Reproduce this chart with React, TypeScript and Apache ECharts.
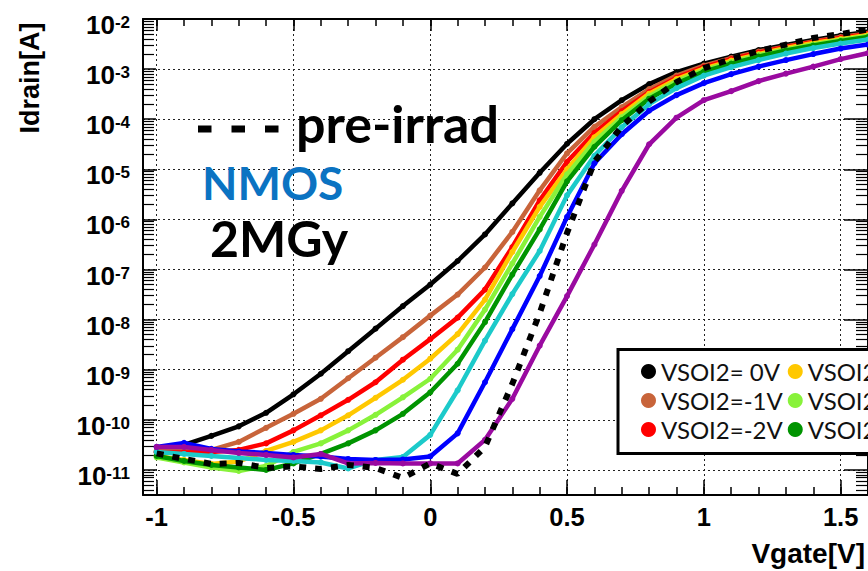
import React, { useEffect, useRef } from 'react';
import * as echarts from 'echarts';

// Gate voltage [V]
const VGATE = [-1.0, -0.9, -0.8, -0.7, -0.6, -0.5, -0.4, -0.3, -0.2, -0.1, 0.0, 0.1, 0.2, 0.3, 0.4, 0.5, 0.6, 0.7, 0.8, 0.9, 1.0, 1.1, 1.2, 1.3, 1.4, 1.5, 1.6];

// log10(Idrain [A])
const LOG_ID_0V = [-10.64, -10.50, -10.32, -10.13, -9.86, -9.49, -9.08, -8.63, -8.18, -7.73, -7.30, -6.83, -6.30, -5.68, -5.07, -4.49, -4.00, -3.62, -3.30, -3.06, -2.89, -2.75, -2.62, -2.52, -2.42, -2.33, -2.26];
const LOG_ID_M1V = [-10.62, -10.62, -10.60, -10.44, -10.16, -9.88, -9.58, -9.17, -8.76, -8.35, -7.92, -7.50, -6.96, -6.25, -5.42, -4.68, -4.15, -3.76, -3.40, -3.13, -2.93, -2.78, -2.65, -2.55, -2.45, -2.36, -2.29];
const LOG_ID_M2V = [-10.65, -10.65, -10.64, -10.60, -10.47, -10.21, -9.91, -9.60, -9.25, -8.80, -8.39, -7.96, -7.40, -6.55, -5.62, -4.85, -4.27, -3.84, -3.46, -3.17, -2.96, -2.80, -2.67, -2.56, -2.46, -2.38, -2.30];
const LOG_ID_M3V = [-10.72, -10.80, -10.88, -10.83, -10.62, -10.44, -10.21, -9.91, -9.56, -9.20, -8.78, -8.29, -7.60, -6.65, -5.75, -5.00, -4.36, -3.90, -3.49, -3.20, -2.99, -2.83, -2.70, -2.58, -2.48, -2.40, -2.32];
const LOG_ID_M4V = [-10.75, -10.85, -10.95, -11.02, -10.92, -10.64, -10.47, -10.21, -9.90, -9.55, -9.18, -8.60, -7.80, -6.88, -5.95, -5.10, -4.45, -3.96, -3.54, -3.24, -3.02, -2.86, -2.72, -2.61, -2.51, -2.42, -2.34];
const LOG_ID_M5V = [-10.72, -10.82, -10.90, -10.95, -11.00, -10.87, -10.68, -10.47, -10.21, -9.88, -9.45, -8.88, -8.05, -7.10, -6.20, -5.24, -4.55, -4.02, -3.59, -3.29, -3.05, -2.89, -2.75, -2.63, -2.53, -2.44, -2.36];
const LOG_ID_M6V = [-10.64, -10.68, -10.72, -10.76, -10.80, -10.82, -10.85, -10.97, -10.80, -10.74, -10.30, -9.41, -8.42, -7.49, -6.63, -5.52, -4.73, -4.16, -3.70, -3.38, -3.13, -2.96, -2.82, -2.69, -2.58, -2.49, -2.41];
const LOG_ID_M8V = [-10.54, -10.46, -10.58, -10.63, -10.66, -10.70, -10.73, -10.78, -10.80, -10.79, -10.73, -10.27, -9.25, -8.19, -7.13, -5.95, -4.88, -4.30, -3.83, -3.52, -3.28, -3.10, -2.95, -2.82, -2.70, -2.59, -2.51];
const LOG_ID_M10V = [-10.54, -10.54, -10.60, -10.66, -10.70, -10.75, -10.68, -10.87, -10.86, -10.87, -10.87, -10.87, -10.40, -9.58, -8.52, -7.53, -6.50, -5.43, -4.50, -3.97, -3.62, -3.44, -3.24, -3.09, -2.95, -2.80, -2.68];
const LOG_ID_PRE = [-10.67, -10.78, -10.88, -10.86, -10.96, -10.93, -10.98, -10.90, -10.96, -11.16, -10.87, -11.08, -10.54, -9.28, -7.87, -6.27, -4.85, -4.14, -3.65, -3.26, -2.98, -2.80, -2.64, -2.51, -2.38, -2.30, -2.21];

const SERIES_NAMES = ['VSOI2= 0V', 'VSOI2=-1V', 'VSOI2=-2V', 'VSOI2=-3V', 'VSOI2=-4V', 'VSOI2=-5V', 'VSOI2=-6V', 'VSOI2=-8V', 'VSOI2=-10V'];
const SERIES_LOGS = [LOG_ID_0V, LOG_ID_M1V, LOG_ID_M2V, LOG_ID_M3V, LOG_ID_M4V, LOG_ID_M5V, LOG_ID_M6V, LOG_ID_M8V, LOG_ID_M10V];
const SERIES_COLORS = ['#000000', '#c8643a', '#ff0000', '#ffc800', '#88f23a', '#009400', '#1ccaca', '#0000ff', '#9a0aa0'];

const X_MAJOR = [-1, -0.5, 0, 0.5, 1, 1.5];
const Y_MAJOR_EXP = [-11, -10, -9, -8, -7, -6, -5, -4, -3, -2];

const FONT = '"Liberation Sans", Arial, Helvetica, sans-serif';
const DECO_FONT = 'Lato, "Open Sans", "DejaVu Sans", sans-serif';

const X_MIN = -1.05;
const X_MAX = 1.6;
const Y_MIN = Math.pow(10, -11.5);
const Y_MAX = 1e-2;

export default function App() {
  const ref = useRef<HTMLDivElement>(null);

  useEffect(() => {
    if (!ref.current) return;
    const chart = echarts.init(ref.current, undefined, { renderer: 'svg' });

    const xMinor: number[] = [];
    for (let k = -10; k <= 16; k++) xMinor.push(Math.round(k) / 10);
    const yMajor = Y_MAJOR_EXP.map((e) => Math.pow(10, e));
    const yMinor: number[] = [];
    for (let e = -12; e <= -3; e++) {
      for (let m = 2; m <= 9; m++) {
        const v = m * Math.pow(10, e);
        if (v >= Y_MIN && v <= Y_MAX) yMinor.push(v);
      }
    }

    const grid = { color: '#222', width: 1, type: [2, 3] as number[] };
    const frameLine = { show: true, onZero: false, lineStyle: { color: '#000', width: 2 } };
    const hiddenLine = { show: false, onZero: false };

    const xBase = { type: 'value', min: X_MIN, max: X_MAX, gridIndex: 0 };
    const yBase = { type: 'log', logBase: 10, min: Y_MIN, max: Y_MAX, gridIndex: 0 };

    const series: any[] = SERIES_NAMES.map((name, i) => ({
      name,
      type: 'line',
      xAxisIndex: 0,
      yAxisIndex: 0,
      data: VGATE.map((v, j) => [v, Math.pow(10, SERIES_LOGS[i][j])]),
      symbol: 'circle',
      symbolSize: 6,
      showSymbol: true,
      lineStyle: { color: SERIES_COLORS[i], width: 4.5 },
      itemStyle: { color: SERIES_COLORS[i] },
      silent: true,
      emphasis: { disabled: true },
      z: 2 + i,
    }));
    series.push({
      name: 'pre-irrad',
      type: 'line',
      xAxisIndex: 0,
      yAxisIndex: 0,
      data: VGATE.map((v, j) => [v, Math.pow(10, LOG_ID_PRE[j])]),
      showSymbol: false,
      lineStyle: { color: '#000', width: 6, type: [7, 9] },
      itemStyle: { color: '#000' },
      silent: true,
      emphasis: { disabled: true },
      z: 20,
    });

    const option: any = {
      animation: false,
      backgroundColor: '#fff',
      grid: { left: 143, right: -4, top: 16.5, bottom: 76, containLabel: false },
      xAxis: [
        {
          ...xBase,
          position: 'bottom',
          axisLine: frameLine,
          axisTick: { show: true, inside: true, length: 15, customValues: X_MAJOR, lineStyle: { color: '#000', width: 1.5 } },
          axisLabel: {
            show: true, customValues: X_MAJOR, margin: 9, color: '#000', fontSize: 25.5, fontWeight: 'bold', fontFamily: FONT,
            formatter: (v: number) => String(v),
          },
          splitLine: { show: true, lineStyle: grid },
        },
        {
          ...xBase,
          position: 'bottom',
          axisLine: hiddenLine,
          axisTick: { show: true, inside: true, length: 8, customValues: xMinor, lineStyle: { color: '#000', width: 1.5 } },
          axisLabel: { show: false },
          splitLine: { show: false },
        },
        {
          ...xBase,
          position: 'top',
          axisLine: frameLine,
          axisTick: { show: true, inside: true, length: 12, customValues: X_MAJOR, lineStyle: { color: '#000', width: 1.5 } },
          axisLabel: { show: false },
          splitLine: { show: false },
        },
        {
          ...xBase,
          position: 'top',
          axisLine: hiddenLine,
          axisTick: { show: true, inside: true, length: 7, customValues: xMinor, lineStyle: { color: '#000', width: 1.5 } },
          axisLabel: { show: false },
          splitLine: { show: false },
        },
      ],
      yAxis: [
        {
          ...yBase,
          position: 'left',
          axisLine: frameLine,
          axisTick: { show: true, inside: true, length: 13, customValues: yMajor, lineStyle: { color: '#000', width: 1.5 } },
          axisLabel: {
            show: true, customValues: yMajor, margin: 13, color: '#000',
            formatter: (v: number) => `{b|10}{s|${Math.round(Math.log10(v))}}`,
            rich: {
              b: { fontSize: 26, fontWeight: 'bold', fontFamily: FONT, color: '#000', lineHeight: 25, padding: [12, 0, 0, 0] },
              s: { fontSize: 17, fontWeight: 'bold', fontFamily: FONT, color: '#000', lineHeight: 17, verticalAlign: 'top', padding: [7.5, 0, 0, 0] },
            },
          },
          splitLine: { show: true, lineStyle: grid },
        },
        {
          ...yBase,
          position: 'left',
          axisLine: hiddenLine,
          axisTick: { show: true, inside: true, length: 11, customValues: yMinor, lineStyle: { color: '#000', width: 1.2 } },
          axisLabel: { show: false },
          splitLine: { show: false },
        },
        {
          ...yBase,
          position: 'right',
          axisLine: frameLine,
          axisTick: { show: true, inside: true, length: 24, customValues: yMajor, lineStyle: { color: '#000', width: 1.5 } },
          axisLabel: { show: false },
          splitLine: { show: false },
        },
        {
          ...yBase,
          position: 'right',
          axisLine: hiddenLine,
          axisTick: { show: true, inside: true, length: 12, customValues: yMinor, lineStyle: { color: '#000', width: 1.2 } },
          axisLabel: { show: false },
          splitLine: { show: false },
        },
      ],
      legend: {
        show: true,
        data: SERIES_NAMES,
        orient: 'vertical',
        left: 618,
        top: 349.5,
        height: 96,
        padding: [10, 20, 12, 23],
        itemGap: 5,
        itemWidth: 15,
        itemHeight: 15,
        icon: 'circle',
        borderColor: '#000',
        borderWidth: 3,
        backgroundColor: '#fff',
        selectedMode: false,
        textStyle: { fontSize: 24, lineHeight: 24, color: '#111', fontFamily: DECO_FONT },
        z: 30,
      },
      graphic: [
        {
          type: 'line', silent: true, z: 40,
          shape: { x1: 198, y1: 129, x2: 279, y2: 129 },
          style: { stroke: '#000', lineWidth: 7, lineDash: [13.5, 20] },
        },
        {
          type: 'text', silent: true, z: 40, x: 296, y: 123,
          style: { text: 'pre-irrad', fill: '#000', fontSize: 52, fontWeight: 'bold', fontFamily: DECO_FONT, align: 'left', verticalAlign: 'middle' },
        },
        {
          type: 'text', silent: true, z: 40, x: 202, y: 182,
          style: { text: 'NMOS', fill: '#0b73c2', fontSize: 46, fontWeight: 'bold', fontFamily: DECO_FONT, align: 'left', verticalAlign: 'middle' },
        },
        {
          type: 'text', silent: true, z: 40, x: 210, y: 238,
          style: { text: '2MGy', fill: '#000', fontSize: 50, fontWeight: 'bold', fontFamily: DECO_FONT, align: 'left', verticalAlign: 'middle' },
        },
        {
          type: 'text', silent: true, z: 40, x: 30, y: 78, rotation: Math.PI / 2,
          style: { text: 'Idrain[A]', fill: '#000', fontSize: 27, fontWeight: 'bold', fontFamily: FONT, align: 'center', verticalAlign: 'middle' },
        },
        {
          type: 'text', silent: true, z: 40, x: 865, y: 553,
          style: { text: 'Vgate[V]', fill: '#000', fontSize: 28, fontWeight: 'bold', fontFamily: FONT, align: 'right', verticalAlign: 'middle' },
        },
      ],
      series,
    };

    chart.setOption(option);
    return () => chart.dispose();
  }, []);

  return (
    <div
      ref={ref}
      style={{ position: 'fixed', left: 0, top: 0, width: 868, height: 571, background: '#fff' }}
    />
  );
}
